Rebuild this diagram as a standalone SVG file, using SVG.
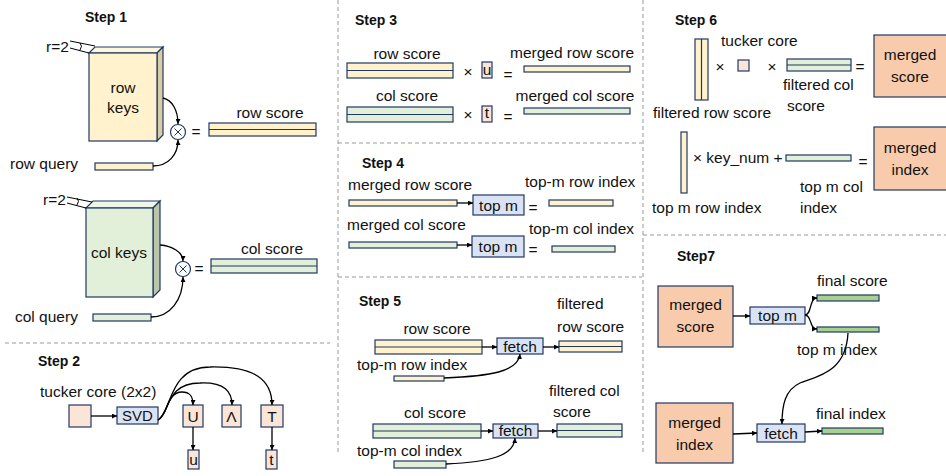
<svg xmlns="http://www.w3.org/2000/svg" width="946" height="476" viewBox="0 0 946 476">
<defs>
<marker id="ah" viewBox="0 0 6 6" refX="6" refY="3" markerWidth="5" markerHeight="5" orient="auto" markerUnits="userSpaceOnUse"><path d="M0,0 L6,3 L0,6 z" fill="#000"/></marker>
</defs>
<style>
text{font-family:"Liberation Sans",Arial,sans-serif;font-size:15.5px;fill:#111}
.b{font-weight:bold;font-size:14px}
.m{text-anchor:middle}
.y{fill:#FFF2CC;stroke:#203864;stroke-width:1.2}
.g{fill:#E2F0D9;stroke:#203864;stroke-width:1.2}
.bl{fill:#DAE3F3;stroke:#203864;stroke-width:1.2}
.p{fill:#FBE5D6;stroke:#203864;stroke-width:1.2}
.o{fill:#F8CBAD;stroke:#203864;stroke-width:1.2}
.f{fill:#A9D18E;stroke:#203864;stroke-width:1.2}
.sep{stroke:#999;stroke-width:1;stroke-dasharray:4,3;fill:none}
.c{fill:none;stroke:#000;stroke-width:1.3}
.a{marker-end:url(#ah)}
.ln{stroke:#203864;stroke-width:1.2;fill:none}
</style>
<rect width="946" height="476" fill="#fff"/>

<g id="separators">
<line class="sep" x1="5" y1="343" x2="330" y2="343"/>
<line class="sep" x1="338" y1="0" x2="338" y2="453"/>
<line class="sep" x1="338" y1="143" x2="642" y2="143"/>
<line class="sep" x1="338" y1="277" x2="642" y2="277"/>
<line class="sep" x1="643" y1="0" x2="643" y2="452"/>
<line class="sep" x1="643" y1="235" x2="946" y2="235"/>
</g>

<!-- Step 1 -->
<g id="step1">
<text class="b" x="85" y="22">Step 1</text>
</g>
<g id="row-keys">
<polygon points="89,53 95,47 163,47 157,53" fill="#FFF6DC" stroke="#203864" stroke-width="1.2"/>
<polygon points="157,53 163,47 163,135 157,141" fill="#D8CDA6" stroke="#203864" stroke-width="1.2"/>
<rect class="y" x="89" y="53" width="68" height="88"/>
<text class="m" x="123" y="93">row</text>
<text class="m" x="123" y="113">keys</text>
<text x="46" y="52">r=2</text>
<line x1="70" y1="41" x2="95" y2="46" stroke="#000" stroke-width="1"/>
<line x1="70" y1="48" x2="89" y2="53" stroke="#000" stroke-width="1"/>
<path d="M80,43 Q83,46 80,50" fill="none" stroke="#000" stroke-width="1"/>
</g>
<g id="row-mult">
<circle cx="178" cy="132" r="7.5" fill="#fff" stroke="#203864" stroke-width="1.2"/>
<path d="M174.5,128.5 L181.5,135.5 M181.5,128.5 L174.5,135.5" stroke="#203864" stroke-width="1"/>
<text class="m" x="196" y="137">=</text>
</g>
<g id="row-score">
<rect class="y" x="209" y="123" width="107" height="13"/>
<line class="ln" x1="209" y1="129.5" x2="316" y2="129.5"/>
<text class="m" x="270" y="118">row score</text>
</g>
<g id="row-query">
<text x="10" y="169">row query</text>
<rect class="y" x="95" y="163" width="58" height="7"/>
</g>
<g id="col-keys">
<polygon points="86,208 93,201 160,201 153,208" fill="#EEF6E8" stroke="#203864" stroke-width="1.2"/>
<polygon points="153,208 160,201 160,290 153,297" fill="#B9C6AC" stroke="#203864" stroke-width="1.2"/>
<rect class="g" x="86" y="208" width="67" height="89"/>
<text class="m" x="119" y="258">col keys</text>
<text x="43" y="205">r=2</text>
<line x1="67" y1="197" x2="92" y2="202" stroke="#000" stroke-width="1"/>
<line x1="67" y1="203" x2="86" y2="208" stroke="#000" stroke-width="1"/>
<path d="M77,198 Q80,201 77,205" fill="none" stroke="#000" stroke-width="1"/>
</g>
<g id="col-mult">
<circle cx="183" cy="269" r="7.5" fill="#fff" stroke="#203864" stroke-width="1.2"/>
<path d="M179.5,265.5 L186.5,272.5 M186.5,265.5 L179.5,272.5" stroke="#203864" stroke-width="1"/>
<text class="m" x="199" y="274">=</text>
</g>
<g id="col-score">
<rect class="g" x="211" y="259" width="106" height="14"/>
<line class="ln" x1="211" y1="266" x2="317" y2="266"/>
<text class="m" x="272" y="254">col score</text>
</g>
<g id="col-query">
<text x="15" y="322">col query</text>
<rect class="g" x="93" y="314" width="58" height="7"/>
</g>

<!-- Step 2 -->
<g id="step2">
<text class="b" x="38" y="366">Step 2</text>
</g>
<g id="tucker-core">
<text x="40" y="397">tucker core (2x2)</text>
<rect class="p" x="69" y="405" width="22" height="22"/>
</g>
<g id="svd">
<rect class="bl" x="117" y="407" width="41" height="17"/>
<text class="m" x="137.5" y="421" style="font-size:15px">SVD</text>
</g>
<g id="U"><rect class="p" x="183" y="405" width="20" height="22"/><text class="m" x="193" y="422">U</text></g>
<g id="Lambda"><rect class="p" x="222" y="405" width="19" height="22"/><text class="m" x="231.5" y="422">Λ</text></g>
<g id="T"><rect class="p" x="261" y="405" width="22" height="22"/><text class="m" x="272" y="422">T</text></g>
<g id="u-small"><rect class="p" x="188" y="450" width="11" height="19"/><text class="m" x="193.5" y="465">u</text></g>
<g id="t-small"><rect class="p" x="266" y="450" width="11" height="19"/><text class="m" x="271.5" y="465">t</text></g>

<!-- Step 3 -->
<g id="step3"><text class="b" x="355" y="25">Step 3</text></g>
<g id="s3-row">
<text class="m" x="407" y="59">row score</text>
<rect class="y" x="347" y="63" width="106" height="15"/>
<line class="ln" x1="347" y1="70.5" x2="453" y2="70.5"/>
<text class="m" x="468" y="77">×</text>
<rect class="p" x="482" y="62" width="10" height="16"/>
<text class="m" x="487" y="75">u</text>
<text class="m" x="508" y="80">=</text>
<rect class="y" x="524" y="66" width="106" height="6"/>
<text class="m" x="572" y="58">merged row score</text>
</g>
<g id="s3-col">
<text class="m" x="407" y="101">col score</text>
<rect class="g" x="347" y="107" width="106" height="15"/>
<line class="ln" x1="347" y1="114.5" x2="453" y2="114.5"/>
<text class="m" x="468" y="120">×</text>
<rect class="p" x="482" y="106" width="10" height="16"/>
<text class="m" x="487" y="118">t</text>
<text class="m" x="508" y="122">=</text>
<rect class="g" x="524" y="108" width="106" height="6"/>
<text class="m" x="575" y="101">merged col score</text>
</g>

<!-- Step 4 -->
<g id="step4"><text class="b" x="362" y="168">Step 4</text></g>
<g id="s4-row">
<text x="348" y="190">merged row score</text>
<rect class="y" x="349" y="200" width="108" height="6"/>
<rect class="bl" x="473" y="195" width="51" height="20"/>
<text class="m" x="498.5" y="211">top m</text>
<text class="m" x="533" y="213">=</text>
<rect class="y" x="549" y="200" width="64" height="6"/>
<text x="525" y="187">top-m row index</text>
</g>
<g id="s4-col">
<text x="347" y="230">merged col score</text>
<rect class="g" x="349" y="242" width="108" height="6"/>
<rect class="bl" x="472" y="236" width="52" height="21"/>
<text class="m" x="498" y="252">top m</text>
<text class="m" x="533" y="255">=</text>
<rect class="g" x="552" y="246" width="63" height="6"/>
<text x="529" y="234">top-m col index</text>
</g>

<!-- Step 5 -->
<g id="step5"><text class="b" x="359" y="306">Step 5</text></g>
<g id="s5-row">
<text class="m" x="437" y="334">row score</text>
<rect class="y" x="375" y="340" width="107" height="14"/>
<line class="ln" x1="375" y1="347" x2="482" y2="347"/>
<rect class="bl" x="497" y="338" width="46" height="16"/>
<text class="m" x="520" y="352">fetch</text>
<rect class="y" x="559" y="341" width="63" height="11"/>
<line class="ln" x1="559" y1="346.5" x2="622" y2="346.5"/>
<text x="557" y="309">filtered</text>
<text x="557" y="332">row score</text>
<text x="357" y="370">top-m row index</text>
<rect class="y" x="394" y="376" width="50" height="5"/>
</g>
<g id="s5-col">
<text class="m" x="435" y="418">col score</text>
<rect class="g" x="373" y="424" width="108" height="14"/>
<line class="ln" x1="373" y1="431" x2="481" y2="431"/>
<rect class="bl" x="493" y="424" width="45" height="14"/>
<text class="m" x="515.5" y="436">fetch</text>
<rect class="g" x="557" y="424" width="65" height="13"/>
<line class="ln" x1="557" y1="430.5" x2="622" y2="430.5"/>
<text x="549" y="396">filtered col</text>
<text x="553" y="417">score</text>
<text x="357" y="456">top-m col index</text>
<rect class="g" x="394" y="461" width="52" height="7"/>
</g>

<!-- Step 6 -->
<g id="step6"><text class="b" x="675" y="25">Step 6</text></g>
<g id="s6-score">
<rect class="y" x="695" y="39" width="13" height="61"/>
<line class="ln" x1="701.5" y1="39" x2="701.5" y2="100"/>
<text x="653" y="118">filtered row score</text>
<text class="m" x="720" y="72">×</text>
<text x="721" y="46">tucker core</text>
<rect class="p" x="738" y="60" width="11" height="11"/>
<text class="m" x="772" y="72">×</text>
<rect class="g" x="787" y="59" width="64" height="12"/>
<line class="ln" x1="787" y1="65" x2="851" y2="65"/>
<text x="783" y="90">filtered col</text>
<text x="787" y="111">score</text>
<text class="m" x="860" y="72">=</text>
</g>
<g id="merged-score-6">
<rect class="o" x="874" y="35" width="74" height="62"/>
<text class="m" x="910" y="60">merged</text>
<text class="m" x="910" y="82">score</text>
</g>
<g id="s6-index">
<rect class="y" x="681" y="132" width="6" height="61"/>
<text x="693" y="163">× key_num +</text>
<rect class="g" x="786" y="155" width="65" height="6"/>
<text x="800" y="192">top m col</text>
<text x="800" y="213">index</text>
<text x="652" y="213">top m row index</text>
<text class="m" x="863" y="167">=</text>
</g>
<g id="merged-index-6">
<rect class="o" x="874" y="127" width="74" height="63"/>
<text class="m" x="910" y="153">merged</text>
<text class="m" x="910" y="175">index</text>
</g>

<!-- Step 7 -->
<g id="step7"><text class="b" x="677" y="261">Step7</text></g>
<g id="merged-score-7">
<rect class="o" x="658" y="286" width="75" height="61"/>
<text class="m" x="695.5" y="310">merged</text>
<text class="m" x="695.5" y="332">score</text>
</g>
<g id="topm-7">
<rect class="bl" x="750" y="307" width="55" height="17"/>
<text class="m" x="777.5" y="321">top m</text>
</g>
<g id="final-score">
<text x="817" y="286">final score</text>
<rect class="f" x="817" y="295" width="62" height="6"/>
</g>
<g id="topm-index">
<rect class="f" x="817" y="327" width="62" height="5"/>
<text x="797" y="355">top m index</text>
</g>
<g id="merged-index-7">
<rect class="o" x="656" y="403" width="77" height="60"/>
<text class="m" x="694.5" y="428">merged</text>
<text class="m" x="694.5" y="450">index</text>
</g>
<g id="fetch-7">
<rect class="bl" x="757" y="424" width="48" height="18"/>
<text class="m" x="781" y="439">fetch</text>
</g>
<g id="final-index">
<text x="816" y="419">final index</text>
<rect class="f" x="822" y="428" width="61" height="6"/>
</g>

<g id="connectors">
<path class="c a" d="M163,98 C172,100 178,110 178,124"/>
<path class="c a" d="M153,166 C168,166 178,155 178,140"/>
<path class="c a" d="M160,245 C172,246 183,252 183,261"/>
<path class="c a" d="M151,317 C170,317 183,300 183,277"/>
<path class="c a" d="M91,416 L117,416"/>
<path class="c a" d="M158,420 C168,416 166,392 182,392 C190,392 193,396 193,405"/>
<path class="c a" d="M158,420 C170,414 165,383 200,383 C225,382 232,392 232,405"/>
<path class="c a" d="M158,420 C172,412 168,367 210,367 C255,366 272,380 272,405"/>
<path class="c a" d="M193,427 L193,450"/>
<path class="c a" d="M272,427 L272,450"/>
<path class="c a" d="M457,203 L473,203"/>
<path class="c a" d="M457,245 L472,245"/>
<path class="c a" d="M482,347 L497,347"/>
<path class="c a" d="M543,347 L559,347"/>
<path class="c a" d="M444,378 C490,376 518,372 520,354"/>
<path class="c a" d="M481,431 L493,431"/>
<path class="c a" d="M538,431 L557,431"/>
<path class="c a" d="M446,464 C490,462 514,456 515,438"/>
<path class="c a" d="M733,316 L750,316"/>
<path class="c a" d="M805,315 C812,315 809,298 817,298"/>
<path class="c a" d="M805,315 C812,315 809,329 817,329"/>
<path class="c a" d="M848,333 C846,372 818,376 800,383 C785,390 782,405 782,424"/>
<path class="c a" d="M733,434 L757,433"/>
<path class="c a" d="M805,432 L822,431"/>
</g>
</svg>
